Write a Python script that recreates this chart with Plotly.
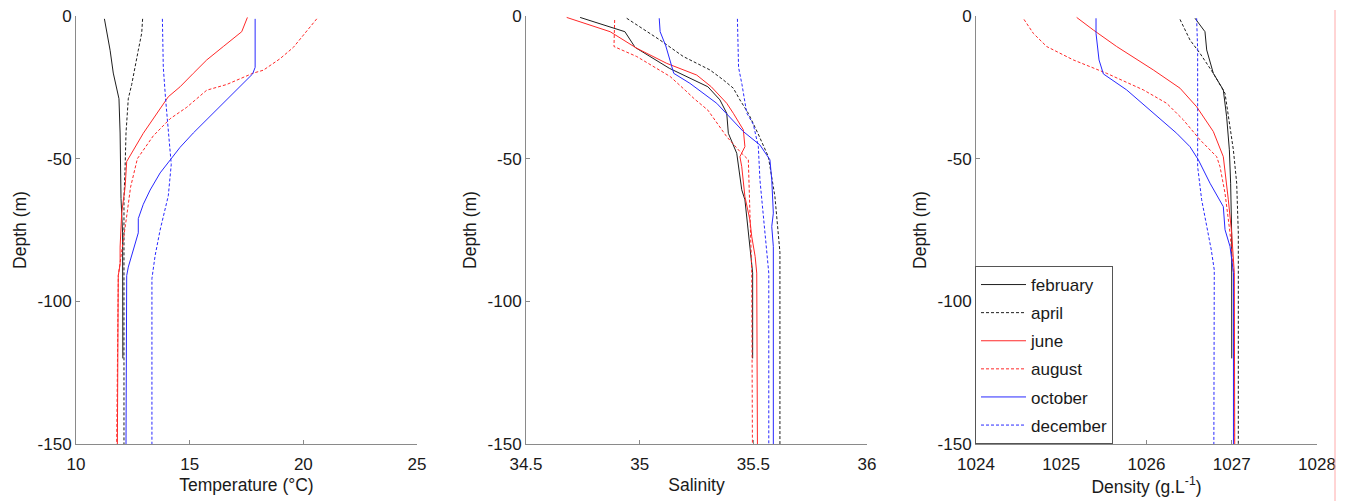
import plotly.graph_objects as go

MONTHS = ["february", "april", "june", "august", "october", "december"]

# ---------------- Temperature (°C) ----------------
T_FEB_D = [-1, -12, -20, -26, -29, -41, -53, -64, -76, -90, -120]
T_FEB = [11.25, 11.50, 11.64, 11.82, 11.89, 11.94, 11.97, 11.98, 12.05, 12.06, 12.06]
T_APR_D = [-1, -6, -12, -18, -24, -29, -41, -53, -64, -81, -150]
T_APR = [12.93, 12.89, 12.74, 12.60, 12.45, 12.30, 12.20, 12.16, 12.11, 12.11, 12.11]
T_JUN_D = [-0.5, -5.5, -10.7, -15.4, -20.1, -24.8, -28.3, -34.1, -41.1, -51, -60, -69, -81, -87, -91, -150]
T_JUN = [17.54, 17.29, 16.48, 15.75, 15.16, 14.58, 14.06, 13.55, 12.96, 12.23, 12.16, 12.01, 11.94, 11.94, 11.86, 11.82]
T_AUG_D = [-1, -6, -11, -15, -19, -20, -24, -26, -32, -36, -42, -50, -60, -69, -81, -91, -150]
T_AUG = [20.59, 20.07, 19.56, 18.97, 18.24, 17.80, 16.63, 15.75, 14.87, 14.14, 13.40, 12.70, 12.40, 12.25, 12.05, 11.86, 11.79]
T_OCT_D = [-1, -12, -18, -20.3, -27, -33, -41, -46, -50.4, -55, -61, -66, -71, -76, -88, -91, -150]
T_OCT = [17.88, 17.88, 17.88, 17.77, 16.92, 16.19, 15.16, 14.58, 14.14, 13.70, 13.26, 12.96, 12.74, 12.74, 12.30, 12.23, 12.20]
T_DEC_D = [-1, -18, -29, -41, -52, -63, -75, -84, -92, -150]
T_DEC = [13.80, 13.84, 13.94, 14.06, 14.19, 14.06, 13.70, 13.48, 13.34, 13.34]

# ---------------- Salinity ----------------
S_FEB_D = [-0.5, -5.5, -11, -18.3, -24.8, -29.4, -34.1, -41.1, -48.1, -52.8, -60.9, -64.4, -75, -86.6, -90, -120]
S_FEB = [34.738, 34.935, 34.98, 35.13, 35.30, 35.353, 35.383, 35.390, 35.427, 35.434, 35.449, 35.463, 35.478, 35.493, 35.497, 35.497]
S_APR_D = [-0.8, -8.4, -14.2, -18.9, -22.4, -25.3, -29.4, -34.1, -41.1, -49.3, -63.3, -75, -82.8, -150]
S_APR = [34.943, 35.089, 35.192, 35.309, 35.368, 35.412, 35.441, 35.478, 35.52, 35.566, 35.595, 35.610, 35.617, 35.617]
S_JUN_D = [-0.5, -5.5, -11.3, -16.6, -20.7, -24.8, -30.6, -34.1, -39.9, -45.8, -49.3, -52.8, -63.3, -71.5, -77.3, -84.3, -90.1, -150]
S_JUN = [34.679, 34.870, 34.987, 35.119, 35.251, 35.315, 35.383, 35.412, 35.456, 35.463, 35.441, 35.449, 35.463, 35.485, 35.493, 35.508, 35.515, 35.518]
S_AUG_D = [-1.4, -10.7, -14.2, -21.2, -26, -29, -33, -35.3, -42.3, -47.5, -50.4, -69.1, -90, -150]
S_AUG = [34.89, 34.887, 34.987, 35.134, 35.20, 35.24, 35.30, 35.32, 35.383, 35.441, 35.478, 35.485, 35.493, 35.496]
S_OCT_D = [-0.8, -5.5, -10.5, -20.1, -23.6, -28.8, -30.6, -40.5, -45.2, -50.4, -57.4, -69.1, -73.8, -80.8, -150]
S_OCT = [35.086, 35.09, 35.115, 35.15, 35.221, 35.309, 35.339, 35.456, 35.529, 35.573, 35.581, 35.588, 35.581, 35.588, 35.588]
S_DEC_D = [-1, -18, -24, -31, -34, -38, -45.8, -57.4, -69.1, -80.8, -90.1, -150]
S_DEC = [35.43, 35.435, 35.45, 35.463, 35.471, 35.50, 35.522, 35.529, 35.544, 35.559, 35.568, 35.568]

# ---------------- Density (g/L) ----------------
D_FEB_D = [-0.8, -5.5, -11.9, -20.1, -25.9, -35.3, -46.9, -58.6, -76.1, -120]
D_FEB = [1026.569, 1026.686, 1026.706, 1026.784, 1026.901, 1026.94, 1026.972, 1026.987, 1026.999, 1027.0]
D_APR_D = [-1.2, -8.4, -13.1, -20.1, -27.1, -35.3, -46.9, -58.6, -76.1, -150]
D_APR = [1026.393, 1026.51, 1026.628, 1026.784, 1026.921, 1026.96, 1027.019, 1027.058, 1027.077, 1027.077]
D_JUN_D = [-0.5, -4.9, -10.7, -18.9, -25.3, -31.8, -40.5, -49.3, -64.4, -76.1, -90, -150]
D_JUN = [1025.181, 1025.376, 1025.65, 1026.08, 1026.393, 1026.588, 1026.784, 1026.901, 1026.96, 1026.999, 1027.03, 1027.035]
D_AUG_D = [-1.2, -6.1, -10.7, -15.4, -20.1, -25.9, -30.6, -36.4, -43.4, -49.3, -52.8, -62.1, -76.1, -90, -150]
D_AUG = [1024.563, 1024.673, 1024.829, 1025.142, 1025.533, 1025.963, 1026.237, 1026.432, 1026.628, 1026.823, 1026.862, 1026.921, 1026.98, 1027.02, 1027.025]
D_OCT_D = [-0.8, -6.1, -15.4, -20.3, -25.9, -32.9, -41.1, -45.8, -50.4, -58.6, -66.8, -74.9, -80.8, -90, -150]
D_OCT = [1025.408, 1025.408, 1025.443, 1025.494, 1025.767, 1026.041, 1026.354, 1026.51, 1026.608, 1026.745, 1026.901, 1026.921, 1026.98, 1027.02, 1027.02]
D_DEC_D = [-0.8, -11.9, -29.4, -52.8, -64.4, -73.8, -82, -89, -150]
D_DEC = [1026.588, 1026.6, 1026.6, 1026.6, 1026.647, 1026.706, 1026.76, 1026.795, 1026.79]

# Axis ticks
DEPTH_TICKS = [0, -50, -100, -150]
DEPTH_TICK_TEXT = ["0", "-50", "-100", "-150"]
TEMP_TICKS = [10, 15, 20, 25]
SAL_TICKS = [34.5, 35, 35.5, 36]
SAL_TICK_TEXT = ["34.5", "35", "35.5", "36"]
DENS_TICKS = [1024, 1025, 1026, 1027, 1028]

STYLE = {
    "february": dict(color="rgb(30,30,30)", dash="solid"),
    "april": dict(color="rgb(30,30,30)", dash="3px,2px"),
    "june": dict(color="rgb(255,40,40)", dash="solid"),
    "august": dict(color="rgb(255,40,40)", dash="3px,2px"),
    "october": dict(color="rgb(40,40,255)", dash="solid"),
    "december": dict(color="rgb(40,40,255)", dash="3px,2px"),
}

panels = [
    ("x", "y", [(T_FEB, T_FEB_D), (T_APR, T_APR_D), (T_JUN, T_JUN_D), (T_AUG, T_AUG_D), (T_OCT, T_OCT_D), (T_DEC, T_DEC_D)]),
    ("x2", "y2", [(S_FEB, S_FEB_D), (S_APR, S_APR_D), (S_JUN, S_JUN_D), (S_AUG, S_AUG_D), (S_OCT, S_OCT_D), (S_DEC, S_DEC_D)]),
    ("x3", "y3", [(D_FEB, D_FEB_D), (D_APR, D_APR_D), (D_JUN, D_JUN_D), (D_AUG, D_AUG_D), (D_OCT, D_OCT_D), (D_DEC, D_DEC_D)]),
]

fig = go.Figure()
for pi, (xa, ya, series) in enumerate(panels):
    for month, (vals, depths) in zip(MONTHS, series):
        st = STYLE[month]
        fig.add_trace(go.Scatter(
            x=vals, y=depths, mode="lines", xaxis=xa, yaxis=ya,
            name=month, legendgroup=month, showlegend=(pi == 2),
            line=dict(color=st["color"], dash=st["dash"], width=1),
        ))

W, H = 1352, 501
PLOT_TOP, PLOT_BOTTOM = 16, 444
ML, MR, MT, MB = 0, 0, PLOT_TOP, H - PLOT_BOTTOM
PW = W - ML - MR
PH = H - MT - MB
doms = [(76, 417), (526, 867), (976, 1317)]

FONT = "Liberation Sans, Arial, Helvetica, sans-serif"
TXT = "#1a1a1a"
axis_common = dict(
    showline=True, linecolor="#8a8a8a", linewidth=1, mirror=False,
    ticks="inside", ticklen=4, tickcolor="#8a8a8a", tickwidth=1,
    showgrid=False, zeroline=False, automargin=False,
    tickfont=dict(family=FONT, size=17, color=TXT),
)

xtitles = ["Temperature (°C)", "Salinity", "Density (g.L<sup>-1</sup>)"]
xticks = [(TEMP_TICKS, [str(v) for v in TEMP_TICKS], [10, 25]),
          (SAL_TICKS, SAL_TICK_TEXT, [34.5, 36]),
          (DENS_TICKS, [str(v) for v in DENS_TICKS], [1024, 1028])]

layout = dict(
    width=W, height=H,
    margin=dict(l=ML, r=MR, t=MT, b=MB, pad=0, autoexpand=False),
    paper_bgcolor="white", plot_bgcolor="white",
    font=dict(family=FONT, size=17, color=TXT),
    legend=dict(
        x=975 / PW, y=0, xanchor="left", yanchor="bottom",
        bordercolor="#555555", borderwidth=1, bgcolor="white",
        font=dict(family=FONT, size=17, color=TXT),
        traceorder="grouped", tracegroupgap=3, itemwidth=45,
    ),
    showlegend=True,
)

for i, (d0, d1) in enumerate(doms):
    sfx = "" if i == 0 else str(i + 1)
    tv, tt, rng = xticks[i]
    layout["xaxis" + sfx] = dict(
        axis_common, domain=[d0 / PW, d1 / PW], range=rng,
        tickvals=tv, ticktext=tt, anchor="y" + sfx, ticklabelstandoff=5,
        title=dict(text=xtitles[i], font=dict(family=FONT, size=17.5, color=TXT), standoff=5),
    )
    layout["yaxis" + sfx] = dict(
        axis_common, domain=[0, 1], range=[-150, 0],
        tickvals=DEPTH_TICKS, ticktext=DEPTH_TICK_TEXT, anchor="x" + sfx,
        title=dict(text="Depth (m)", font=dict(family=FONT, size=17.5, color=TXT), standoff=6),
    )

fig.update_layout(**layout)

# thin pink border line at the right edge of the figure
fig.add_shape(type="line", xref="paper", yref="paper",
              x0=1335 / PW, x1=1335 / PW,
              y0=(PLOT_BOTTOM - 10) / PH, y1=(PLOT_BOTTOM - 501) / PH,
              line=dict(color="rgb(255,170,170)", width=1))

# remove the browser's default 8px body margin so the figure fills the window
fig.write_html("out.html", config={"displayModeBar": False},
               post_script="document.body.style.margin='0px';")
